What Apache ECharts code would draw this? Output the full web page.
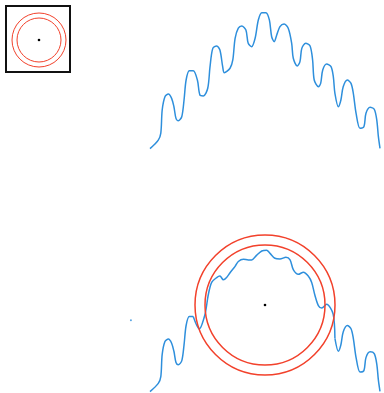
<!DOCTYPE html>
<html>
<head>
<meta charset="utf-8">
<script src="https://cdn.jsdelivr.net/npm/echarts@6/dist/echarts.min.js"></script>
<style>
  html, body { margin: 0; padding: 0; background: #fff; }
  #chart { width: 384px; height: 393px; }
</style>
</head>
<body>
<div id="chart"></div>
<script>
// wave line, [x, y] (x 0..100, y 0..100)
var waveData = [
  [0, 1], [3.6, 7.1], [4.7, 12.1], [5.3, 28.6], [6.5, 38.1], [8.0, 40], [9.4, 36.9],
  [10.4, 30.9], [11.3, 22.6], [12.3, 20.9], [13.8, 23.8], [14.8, 35.7], [15.7, 50],
  [17.1, 56.6], [18.8, 56.6], [20.6, 50], [21.7, 39.3], [23.2, 38.6], [25.1, 44.1],
  [26.1, 59.5], [27.3, 72.6], [29.0, 74.3], [30.4, 71.4], [31.6, 59.5], [32.3, 55.2],
  [34.8, 58.4], [36.0, 64.3], [37.0, 79.8], [38.4, 87.0], [39.9, 88.6], [41.7, 85.7],
  [42.7, 76.2], [44.2, 73.8], [45.7, 79.8], [47.1, 92.9], [48.6, 98.1], [50.4, 98.1],
  [51.9, 92.9], [52.9, 80.9], [54.0, 77.4], [55.1, 82.1], [56.5, 88.1], [58.3, 90],
  [60.1, 86.9], [61.6, 76.2], [62.3, 65.5], [64.0, 60], [65.2, 63.1], [66.0, 72.6],
  [67.7, 76.2], [69.6, 74.3], [70.7, 64.3], [71.4, 50], [73.2, 45.2], [74.2, 47.6],
  [75.1, 57.1], [76.8, 61.4], [78.7, 59.5], [79.7, 52.4], [80.4, 40.5], [81.9, 30.9],
  [83.0, 35.7], [84.0, 45.2], [85.8, 50], [87.4, 47.6], [88.4, 40.5], [89.6, 26.2],
  [91.3, 15.5], [93.0, 16.6], [93.9, 26.2], [95.7, 30.5], [97.5, 29.1], [98.6, 21.4],
  [99.3, 9.5], [100, 1.2]
];

// what the lens shows on the lower copy
var lensData = [
  [18.8, 56.6], [21.4, 47.4], [23.9, 58.1], [25.3, 72.4], [26.8, 81.9], [29.0, 85.5],
  [30.4, 86.6], [31.9, 83.8], [33.3, 85.5], [34.8, 89.1], [37.0, 93.8], [38.4, 97.4],
  [40.6, 99.1], [42.7, 98.6], [44.2, 98.6], [46.4, 102.1], [48.6, 105.2], [50.7, 105.7],
  [52.2, 103.4], [54.3, 99.8], [56.5, 99.3], [59.1, 100.5], [60.9, 98.6], [62.3, 91.4],
  [64.5, 87.9], [66.7, 89.5], [68.8, 86.6], [70.3, 81.9], [71.7, 72.4], [73.2, 64.8],
  [74.7, 62.9], [76.8, 65.7], [79.6, 58.6], [80.4, 40.5]
];

var strayPoint = [[-8.3, 53.8]];

var lensFrom = 18.8, lensTo = 80.4;

var lineColor = '#2e8fdc';
var ringColor = '#f2412b';

// lower copy: the part under the lens is replaced by lensData
var lowerData = waveData.filter(function (p) { return p[0] <= lensFrom; })
  .concat([['-', '-']])
  .concat(waveData.filter(function (p) { return p[0] >= lensTo; }));

var chart = echarts.init(document.getElementById('chart'));

function hiddenAxis(idx) {
  return { type: 'value', gridIndex: idx, min: 0, max: 100, show: false };
}

var option = {
  animation: false,
  grid: [
    { left: 150, top: 10, width: 230, height: 140 },
    { left: 150, top: 258, width: 230, height: 140 }
  ],
  xAxis: [hiddenAxis(0), hiddenAxis(1)],
  yAxis: [hiddenAxis(0), hiddenAxis(1)],
  series: [
    {
      type: 'line', xAxisIndex: 0, yAxisIndex: 0, data: waveData,
      smooth: 0.3, showSymbol: false, z: 2,
      lineStyle: { color: lineColor, width: 1.5 }
    },
    {
      type: 'line', xAxisIndex: 1, yAxisIndex: 1, data: lowerData,
      smooth: 0.3, showSymbol: false, z: 2, clip: false, connectNulls: false,
      lineStyle: { color: lineColor, width: 1.5 }
    },
    {
      type: 'line', xAxisIndex: 1, yAxisIndex: 1, data: lensData,
      smooth: 0.3, showSymbol: false, z: 2, clip: false,
      lineStyle: { color: lineColor, width: 1.5 }
    },
    {
      type: 'scatter', xAxisIndex: 1, yAxisIndex: 1, data: strayPoint,
      symbolSize: 2, clip: false, itemStyle: { color: lineColor }
    }
  ],
  graphic: [
    // icon box
    { type: 'rect', shape: { x: 6, y: 6, width: 64, height: 66 },
      style: { fill: '#fff', stroke: '#111', lineWidth: 2 }, z: 20 },
    { type: 'circle', shape: { cx: 39, cy: 40, r: 27 },
      style: { fill: null, stroke: ringColor, lineWidth: 1 }, z: 21 },
    { type: 'circle', shape: { cx: 39, cy: 40, r: 22 },
      style: { fill: null, stroke: ringColor, lineWidth: 1 }, z: 21 },
    { type: 'circle', shape: { cx: 39, cy: 40, r: 1.3 },
      style: { fill: '#000' }, z: 21 },
    // lens
    { type: 'circle', shape: { cx: 265, cy: 305, r: 70 },
      style: { fill: null, stroke: ringColor, lineWidth: 1.5 }, z: 20 },
    { type: 'circle', shape: { cx: 265, cy: 305, r: 60 },
      style: { fill: null, stroke: ringColor, lineWidth: 1.5 }, z: 20 },
    { type: 'circle', shape: { cx: 265, cy: 305, r: 1.3 },
      style: { fill: '#000' }, z: 20 }
  ]
};

chart.setOption(option);
</script>
</body>
</html>
